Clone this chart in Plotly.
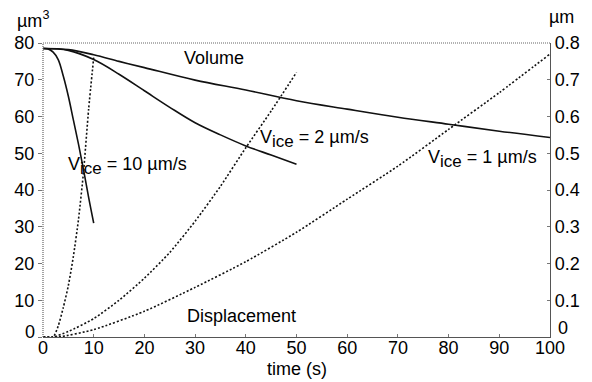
import plotly.graph_objects as go

# Volume (µm^3) curves, left axis
t_v10 = [0, 1, 2, 3, 4, 5, 6, 7, 8, 9, 10]
vol_v10 = [78.5, 78.4, 77.5, 75.5, 71, 65.5, 59, 52.5, 45.5, 38, 31]
t_v2 = [0, 5, 10, 15, 20, 25, 30, 35, 40, 45, 50]
vol_v2 = [78.5, 78, 75.5, 71.5, 67, 62.5, 58.3, 55, 52, 49.5, 47]
t_v1 = [0, 5, 10, 15, 20, 30, 40, 50, 60, 70, 80, 90, 100]
vol_v1 = [78.5, 78.2, 76.8, 75, 73.3, 69.9, 67.2, 64.3, 62, 59.8, 57.9, 56, 54.3]

# Displacement (µm) curves, right axis
t_d10 = [0, 2, 3, 4, 5, 6, 7, 8, 9, 10]
disp_v10 = [0, 0, 0.03, 0.08, 0.14, 0.22, 0.32, 0.45, 0.62, 0.76]
t_d2 = [0, 2, 5, 10, 15, 20, 25, 30, 35, 40, 45, 50]
disp_v2 = [0, 0, 0.015, 0.05, 0.1, 0.16, 0.23, 0.315, 0.41, 0.515, 0.615, 0.72]
t_d1 = [0, 3, 10, 20, 30, 40, 50, 60, 70, 80, 90, 100]
disp_v1 = [0, 0, 0.02, 0.07, 0.135, 0.205, 0.285, 0.375, 0.465, 0.565, 0.665, 0.77]

x_ticks = [0, 10, 20, 30, 40, 50, 60, 70, 80, 90, 100]
y_ticks = [0, 10, 20, 30, 40, 50, 60, 70, 80]
y_labels = ["", "10", "20", "30", "40", "50", "60", "70", "80"]
y2_ticks = [0, 0.1, 0.2, 0.3, 0.4, 0.5, 0.6, 0.7, 0.8]
y2_labels = ["", "0.1", "0.2", "0.3", "0.4", "0.5", "0.6", "0.7", "0.8"]

FONT = "Liberation Sans, Arial, sans-serif"
FS = 18
fig = go.Figure()

solid = dict(color="#111", width=1.6)
dotted = dict(color="#111", width=1.6, dash="2px,2px")

for tx, vy in [(t_v10, vol_v10), (t_v2, vol_v2), (t_v1, vol_v1)]:
    fig.add_trace(go.Scatter(x=tx, y=vy, mode="lines", line=dict(shape="spline", **solid),
                             showlegend=False, hoverinfo="skip"))
for tx, dy in [(t_d10, disp_v10), (t_d2, disp_v2), (t_d1, disp_v1)]:
    fig.add_trace(go.Scatter(x=tx, y=dy, mode="lines", yaxis="y2",
                             line=dict(shape="spline", smoothing=0.6, **dotted),
                             showlegend=False, hoverinfo="skip"))

fig.update_layout(
    width=592, height=382,
    margin=dict(l=43, r=34, t=43, b=45),
    paper_bgcolor="white", plot_bgcolor="white",
    font=dict(family=FONT, size=FS, color="black"),
    xaxis=dict(range=[0, 100], tickvals=x_ticks, showgrid=False, zeroline=False,
               showline=True, linecolor="#555", linewidth=1.2, ticks="inside",
               ticklen=3, tickcolor="#777", tickfont=dict(size=FS),
               ticklabelstandoff=-6),
    yaxis=dict(range=[0, 80], tickvals=y_ticks, ticktext=y_labels, showgrid=False,
               zeroline=False, showline=False, ticks="outside", ticklen=4,
               tickcolor="#777", tickfont=dict(size=FS)),
    yaxis2=dict(range=[0, 0.8], tickvals=y2_ticks, ticktext=y2_labels, overlaying="y",
                side="right", showgrid=False, zeroline=False, showline=True,
                linecolor="#555", linewidth=1.2, ticks="inside", ticklen=3,
                tickcolor="#777", tickfont=dict(size=FS)),
)

# dotted top border and left axis
fig.add_shape(type="line", xref="paper", yref="paper", x0=0, x1=1, y0=1, y1=1,
              line=dict(color="#666", width=1.2, dash="1px,1px"))
fig.add_shape(type="line", xref="paper", yref="paper", x0=0, x1=0, y0=0, y1=1,
              line=dict(color="#666", width=1.2, dash="1px,1px"))

# raised "0" labels on both y axes
fig.add_annotation(xref="paper", yref="paper", x=-0.012, y=0.017, text="0",
                   showarrow=False, xanchor="right", yanchor="middle", font=dict(size=FS))
fig.add_annotation(xref="paper", yref="paper", x=1.012, y=0.03, text="0",
                   showarrow=False, xanchor="left", yanchor="middle", font=dict(size=FS))

sub = '<sub><span style="font-size:17px">ice</span></sub>'
ann = [
    dict(x=27.5, y=75.8, text="Volume"),
    dict(x=4.6, y=46.5, text="V" + sub + " = 10 µm/s"),
    dict(x=42.5, y=54.0, text="V" + sub + " = 2 µm/s"),
    dict(x=75.5, y=48.5, text="V" + sub + " = 1 µm/s"),
    dict(x=28.1, y=5.7, text="Displacement"),
]
for a in ann:
    fig.add_annotation(x=a["x"], y=a["y"], text=a["text"], showarrow=False,
                       xanchor="left", yanchor="middle", font=dict(size=FS))

fig.add_annotation(xref="paper", yref="paper", x=0.5, y=-0.11, text="time (s)",
                   showarrow=False, xanchor="center", yanchor="middle", font=dict(size=FS))
fig.add_annotation(xref="paper", yref="paper", x=-0.055, y=1.08, text="µm<sup>3</sup>",
                   showarrow=False, xanchor="left", yanchor="middle", font=dict(size=FS))
fig.add_annotation(xref="paper", yref="paper", x=0.994, y=1.09, text="µm",
                   showarrow=False, xanchor="left", yanchor="middle", font=dict(size=FS))

fig.write_html("out.html")
